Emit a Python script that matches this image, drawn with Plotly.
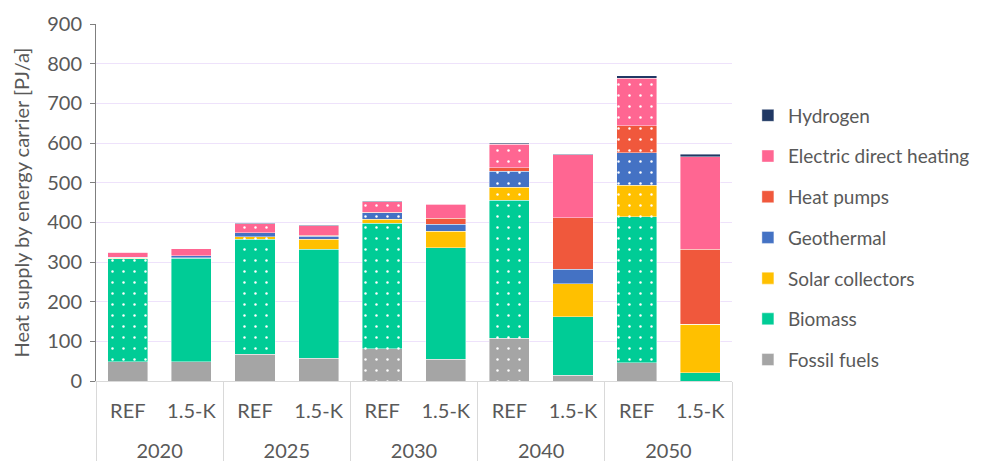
import plotly.graph_objects as go

years = ["2020", "2025", "2030", "2040", "2050"]
scenarios = ["REF", "1.5-K"]

series_names = ["Fossil fuels", "Biomass", "Solar collectors", "Geothermal",
                "Heat pumps", "Electric direct heating", "Hydrogen"]

fossil_ref = [48, 68, 81, 108, 46]
fossil_15k = [48, 57, 55, 15, 0]
biomass_ref = [260, 289, 317, 348, 368]
biomass_15k = [262, 275, 281, 147, 21]
solar_ref = [2, 7, 10, 33, 79]
solar_15k = [1, 25, 42, 83, 122]
geo_ref = [2, 10, 16, 40, 82]
geo_15k = [5, 8, 17, 37, 0]
hp_ref = [0, 0, 2, 8, 68]
hp_15k = [0, 3, 15, 129, 189]
elec_ref = [13, 22, 26, 60, 120]
elec_15k = [17, 24, 35, 159, 233]
h2_ref = [0, 2, 1, 3, 7]
h2_15k = [0, 1, 2, 2, 7]

ref_values = [fossil_ref, biomass_ref, solar_ref, geo_ref, hp_ref, elec_ref, h2_ref]
k15_values = [fossil_15k, biomass_15k, solar_15k, geo_15k, hp_15k, elec_15k, h2_15k]

colors = ["#A5A5A5", "#00CC96", "#FFC000", "#4472C4", "#F0583C", "#FF6692", "#203864"]

# dotted pattern on REF bars (fossil dotted only in 2030 and 2040)
ref_patterns = [["", "", ".", ".", ""]] + [["."] * 5] * 6

FONT = "Lato"
TXT = "#595959"
FS = 20
LFS = 19

# scenario labels get a blank second line to space the year row like the original
scen_labels = [s + "<br>\u00a0" for s in scenarios]

fig = go.Figure()
n = len(series_names)
for i, name in enumerate(series_names):
    rank = n - i
    fig.add_trace(go.Bar(
        x=[years, [scen_labels[0]] * len(years)],
        y=ref_values[i],
        name=name,
        legendgroup=name,
        legendrank=rank,
        showlegend=False,
        marker=dict(
            color=colors[i],
            line=dict(width=0.6, color="rgba(255,255,255,0.7)"),
            pattern=dict(shape=ref_patterns[i], fillmode="overlay",
                         fgcolor="white", fgopacity=1, size=11, solidity=0.04),
        ),
        hoverinfo="skip",
    ))
    fig.add_trace(go.Bar(
        x=[years, [scen_labels[1]] * len(years)],
        y=k15_values[i],
        name=name,
        legendgroup=name,
        legendrank=rank,
        showlegend=True,
        marker=dict(color=colors[i],
                    line=dict(width=0.6, color="rgba(255,255,255,0.7)")),
        hoverinfo="skip",
    ))

fig.update_layout(
    width=982, height=461,
    barmode="stack",
    bargap=0.37,
    plot_bgcolor="white",
    paper_bgcolor="white",
    margin=dict(l=88, r=258, t=16, b=88, autoexpand=False),
    font=dict(family=FONT, size=FS, color=TXT),
    legend=dict(
        x=1.025, xanchor="left", y=0.402, yanchor="middle",
        traceorder="grouped", tracegroupgap=13,
        font=dict(family=FONT, size=LFS, color=TXT),
        itemwidth=30,
    ),
    xaxis=dict(
        type="multicategory",
        automargin=False,
        showline=True, linecolor="#D9D9D9", linewidth=1,
        showdividers=True, dividercolor="#D9D9D9", dividerwidth=1,
        tickfont=dict(family=FONT, size=FS, color=TXT),
        ticklabelstandoff=12,
        showgrid=False, ticks="",
    ),
    yaxis=dict(
        range=[0, 900], dtick=100,
        automargin=False,
        showgrid=True, gridcolor="#EEE2FB", gridwidth=1,
        showline=True, linecolor="#7F7F7F", linewidth=1,
        ticks="outside", ticklen=5, tickcolor="#7F7F7F",
        ticklabelstandoff=4,
        tickfont=dict(family=FONT, size=FS, color=TXT),
        title=dict(text="Heat supply by energy carrier [PJ/a]",
                   font=dict(family=FONT, size=FS, color=TXT), standoff=12),
        zeroline=False,
    ),
)

fig.write_html("out.html")
